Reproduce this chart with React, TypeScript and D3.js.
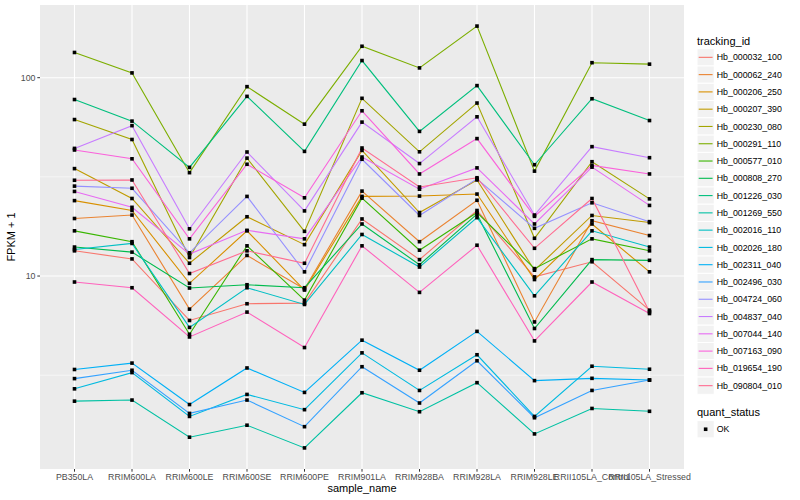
import * as d3 from "d3";

const SAMPLES = [
  "PB350LA",
  "RRIM600LA",
  "RRIM600LE",
  "RRIM600SE",
  "RRIM600PE",
  "RRIM901LA",
  "RRIM928BA",
  "RRIM928LA",
  "RRIM928LE",
  "RRII105LA_Control",
  "RRII105LA_Stressed",
];

// FPKM + 1 per sample
const hb000032_100 = [13.4, 12.2, 5.97, 7.25, 7.3, 19.4, 12.1, 21.4, 9.9, 11.8, 6.73];
const hb000062_240 = [19.5, 20.3, 6.81, 12.7, 8.6, 26.8, 14.9, 24.1, 5.87, 19.0, 16.0];
const hb000206_250 = [24.0, 21.4, 9.19, 16.9, 8.5, 25.2, 25.3, 25.9, 9.6, 18.3, 10.5];
const hb000207_390 = [34.8, 24.6, 11.6, 19.9, 14.4, 43.0, 20.9, 30.5, 10.7, 20.2, 18.6];
const hb000230_080 = [61.5, 48.8, 12.4, 39.3, 16.8, 78.7, 42.3, 74.5, 15.5, 37.7, 24.5];
const hb000291_110 = [134, 105.7, 33.2, 90.1, 58.3, 144, 112, 182, 33.8, 119, 117];
const hb000577_010 = [16.9, 14.9, 5.09, 14.2, 7.56, 24.7, 13.5, 20.9, 10.9, 15.4, 13.4];
const hb000808_270 = [14.0, 13.2, 8.7, 9.04, 8.73, 18.3, 11.4, 20.5, 5.44, 12.1, 12.0];
const hb001226_030 = [77.6, 60.4, 35.3, 80.5, 42.5, 122, 53.6, 91.2, 36.4, 78.3, 60.8];
const hb001269_550 = [2.34, 2.37, 1.54, 1.77, 1.36, 2.58, 2.07, 2.9, 1.6, 2.15, 2.08];
const hb002016_110 = [13.6, 14.6, 5.51, 8.73, 7.19, 16.2, 11.1, 19.7, 7.95, 16.9, 14.0];
const hb002026_180 = [2.7, 3.26, 1.96, 2.53, 2.12, 4.1, 2.65, 4.01, 1.96, 3.51, 3.39];
const hb002311_040 = [3.38, 3.64, 2.25, 3.44, 2.59, 4.75, 3.35, 5.26, 2.97, 3.05, 2.99];
const hb002496_030 = [3.04, 3.35, 2.03, 2.37, 1.74, 3.49, 2.29, 3.74, 1.93, 2.65, 2.99];
const hb004724_060 = [28.4, 27.7, 13.1, 25.2, 10.5, 38.8, 20.2, 30.9, 17.4, 23.4, 18.8];
const hb004837_040 = [44, 57.3, 17.3, 42.2, 21.3, 59.7, 36.9, 63.5, 20.3, 44.9, 39.5];
const hb007044_140 = [26.7, 22.2, 12.9, 17.0, 15.4, 39.8, 27.4, 35.1, 18.3, 35.4, 22.7];
const hb007163_090 = [43.2, 39.0, 15.4, 36.6, 24.8, 68.1, 32.7, 49.3, 20.0, 36.1, 32.7];
const hb019654_190 = [9.33, 8.73, 4.93, 6.58, 4.36, 14.2, 8.27, 14.3, 4.71, 9.33, 6.47];
const hb090804_010 = [30.4, 30.5, 10.3, 13.4, 11.6, 44.2, 28.1, 31.3, 13.8, 24.6, 6.6];

const TRACKING_IDS = [
  "Hb_000032_100",
  "Hb_000062_240",
  "Hb_000206_250",
  "Hb_000207_390",
  "Hb_000230_080",
  "Hb_000291_110",
  "Hb_000577_010",
  "Hb_000808_270",
  "Hb_001226_030",
  "Hb_001269_550",
  "Hb_002016_110",
  "Hb_002026_180",
  "Hb_002311_040",
  "Hb_002496_030",
  "Hb_004724_060",
  "Hb_004837_040",
  "Hb_007044_140",
  "Hb_007163_090",
  "Hb_019654_190",
  "Hb_090804_010",
];

const VALUES = [
  hb000032_100, hb000062_240, hb000206_250, hb000207_390, hb000230_080,
  hb000291_110, hb000577_010, hb000808_270, hb001226_030, hb001269_550,
  hb002016_110, hb002026_180, hb002311_040, hb002496_030, hb004724_060,
  hb004837_040, hb007044_140, hb007163_090, hb019654_190, hb090804_010,
];

const Y_TICKS = [10, 100];
const Y_MINOR = [Math.sqrt(10), Math.sqrt(1000)];

// ggplot's default hue palette for 20 levels
const COLORS = [
  "#F8766D", "#EA8331", "#D89000", "#C09B00", "#A3A500",
  "#7CAE00", "#39B600", "#00BB4E", "#00BF7D", "#00C1A3",
  "#00BFC4", "#00BAE0", "#00B0F6", "#35A2FF", "#9590FF",
  "#C77CFF", "#E76BF3", "#FA62DB", "#FF62BC", "#FF6C91",
];

const W = 800;
const H = 500;
const panel = { left: 40, right: 684, top: 5, bottom: 469 };
const font = "'Liberation Sans', Arial, Helvetica, sans-serif";

export default function App() {
  const series = TRACKING_IDS.map((id, i) => ({
    id,
    color: COLORS[i],
    values: VALUES[i],
  }));

  const x = d3
    .scalePoint<string>()
    .domain(SAMPLES)
    .range([panel.left, panel.right])
    .padding(0.6);

  // log scale with ggplot's 5% expansion in log space
  const all = VALUES.flat();
  const lo = Math.log10(d3.min(all)!);
  const hi = Math.log10(d3.max(all)!);
  const pad = (hi - lo) * 0.05;
  const y = d3
    .scaleLog()
    .domain([10 ** (lo - pad), 10 ** (hi + pad)])
    .range([panel.bottom, panel.top]);

  const line = d3
    .line<number>()
    .x((_, i) => x(SAMPLES[i])!)
    .y((v) => y(v));

  const legendX = 697;
  const keyH = 17.28;
  const keyTop = 48.7;

  return (
    <svg
      width={W}
      height={H}
      style={{ position: "absolute", left: 0, top: 0, background: "#fff" }}
      fontFamily={font}
    >
      <rect
        x={panel.left}
        y={panel.top}
        width={panel.right - panel.left}
        height={panel.bottom - panel.top}
        fill="#EBEBEB"
      />
      {/* minor grid */}
      {Y_MINOR.map((v) => (
        <line
          key={"mn" + v}
          x1={panel.left}
          x2={panel.right}
          y1={y(v)}
          y2={y(v)}
          stroke="#fff"
          strokeWidth={0.55}
        />
      ))}
      {/* major grid */}
      {Y_TICKS.map((v) => (
        <line
          key={"mj" + v}
          x1={panel.left}
          x2={panel.right}
          y1={y(v)}
          y2={y(v)}
          stroke="#fff"
          strokeWidth={1.1}
        />
      ))}
      {SAMPLES.map((s) => (
        <line
          key={"vx" + s}
          x1={x(s)}
          x2={x(s)}
          y1={panel.top}
          y2={panel.bottom}
          stroke="#fff"
          strokeWidth={1.1}
        />
      ))}

      {/* lines */}
      {series.map((s) => (
        <path
          key={s.id}
          d={line(s.values)!}
          fill="none"
          stroke={s.color}
          strokeWidth={1.1}
        />
      ))}
      {/* points */}
      {series.map((s) =>
        s.values.map((v, i) => (
          <rect
            key={s.id + i}
            x={x(SAMPLES[i])! - 1.8}
            y={y(v) - 1.8}
            width={3.6}
            height={3.6}
            fill="#000"
          />
        ))
      )}

      {/* y axis */}
      {Y_TICKS.map((v) => (
        <g key={"yt" + v}>
          <line
            x1={panel.left - 2.7}
            x2={panel.left}
            y1={y(v)}
            y2={y(v)}
            stroke="#333"
            strokeWidth={1}
          />
          <text
            x={panel.left - 4.5}
            y={y(v)}
            dy="0.35em"
            textAnchor="end"
            fontSize={8.8}
            fill="#4D4D4D"
          >
            {v}
          </text>
        </g>
      ))}
      {/* x axis */}
      {SAMPLES.map((s) => (
        <g key={"xt" + s}>
          <line
            x1={x(s)}
            x2={x(s)}
            y1={panel.bottom}
            y2={panel.bottom + 2.7}
            stroke="#333"
            strokeWidth={1}
          />
          <text
            x={x(s)}
            y={panel.bottom + 11.3}
            textAnchor="middle"
            fontSize={8.8}
            fill="#4D4D4D"
          >
            {s}
          </text>
        </g>
      ))}
      <text
        x={(panel.left + panel.right) / 2}
        y={492}
        textAnchor="middle"
        fontSize={11}
        fill="#000"
      >
        sample_name
      </text>
      <text
        transform={`translate(15,${(panel.top + panel.bottom) / 2}) rotate(-90)`}
        textAnchor="middle"
        fontSize={11}
        fill="#000"
      >
        FPKM + 1
      </text>

      {/* legend: tracking_id */}
      <text x={legendX} y={44.5} fontSize={11} fill="#000">
        tracking_id
      </text>
      {series.map((s, i) => {
        const top = keyTop + i * keyH;
        return (
          <g key={"lg" + s.id}>
            <rect
              x={legendX}
              y={top}
              width={keyH}
              height={keyH}
              fill="#F2F2F2"
              stroke="#fff"
              strokeWidth={1}
            />
            <line
              x1={legendX + 1.7}
              x2={legendX + keyH - 1.7}
              y1={top + keyH / 2}
              y2={top + keyH / 2}
              stroke={s.color}
              strokeWidth={1.1}
            />
            <text
              x={legendX + keyH + 2.5}
              y={top + keyH / 2}
              dy="0.35em"
              fontSize={8.8}
              fill="#000"
            >
              {s.id}
            </text>
          </g>
        );
      })}

      {/* legend: quant_status */}
      <text x={legendX} y={415.5} fontSize={11} fill="#000">
        quant_status
      </text>
      <rect
        x={legendX}
        y={420.6}
        width={keyH}
        height={keyH}
        fill="#F2F2F2"
        stroke="#fff"
        strokeWidth={1}
      />
      <rect
        x={legendX + keyH / 2 - 1.8}
        y={420.6 + keyH / 2 - 1.8}
        width={3.6}
        height={3.6}
        fill="#000"
      />
      <text
        x={legendX + keyH + 2.5}
        y={420.6 + keyH / 2}
        dy="0.35em"
        fontSize={8.8}
        fill="#000"
      >
        OK
      </text>
    </svg>
  );
}
